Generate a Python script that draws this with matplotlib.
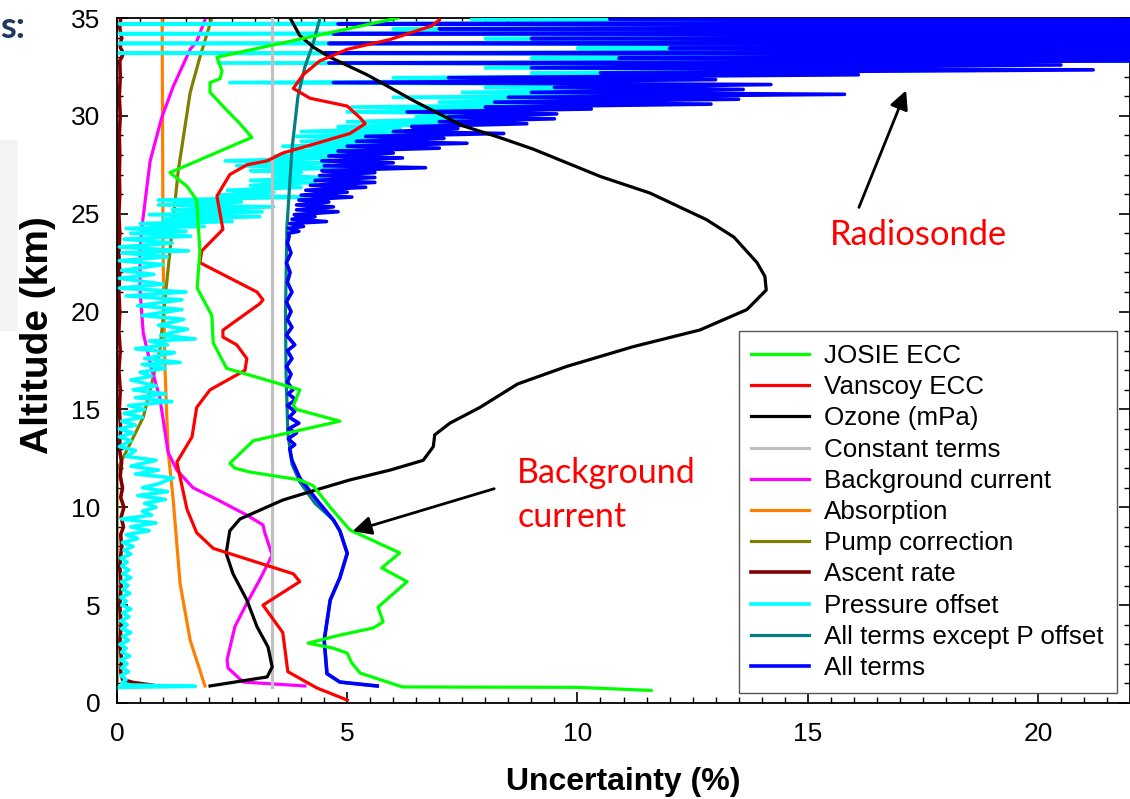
import matplotlib
matplotlib.use("Agg")
import matplotlib.pyplot as plt
from matplotlib.patches import Rectangle
from matplotlib.ticker import MultipleLocator

plt.rcParams['font.family'] = ['Liberation Sans', 'DejaVu Sans']

# ---- data: uncertainty (%) vs altitude (km) ----
josie_alt = [0.64, 0.80, 0.82, 1.53, 2.04, 2.55, 2.8, 3.06, 3.47, 3.83, 4.14, 4.9, 6.2, 6.9, 7.67,
             8.84, 10.0, 11.1, 11.4, 11.8, 12.0, 12.25, 13.4, 14.4, 15.0, 15.2, 16.0, 17.1, 18.4,
             19.8, 21.2, 23.1, 25.7, 26.4, 27.1, 28.9, 29.6, 30.3, 31.2, 31.7, 31.9, 32.3, 33.0, 35.0]
josie_val = [11.6, 10.0, 6.2, 5.28, 5.1, 5.0, 4.7, 4.15, 4.84, 5.56, 5.78, 5.67, 6.3, 5.75, 6.14,
             5.06, 4.63, 4.26, 3.97, 2.89, 2.56, 2.45, 2.96, 4.84, 3.9, 3.83, 3.97, 2.38, 2.09,
             2.06, 1.74, 1.8, 1.73, 1.52, 1.15, 2.93, 2.67, 2.38, 2.02, 2.02, 2.24, 2.28, 2.17, 6.1]

vanscoy_alt = [0.15, 0.77, 1.6, 3.6, 5.0, 6.2, 6.6, 7.9, 8.7, 9.9, 12.3, 13.6, 15.1, 16.0, 17.0,
               17.6, 18.3, 18.7, 19.05, 20.4, 20.6, 21.0, 22.5, 23.1, 24.2, 25.9, 27.0, 27.5, 27.7,
               28.1, 28.6, 29.1, 29.6, 29.9, 30.5, 30.9, 31.4, 32.1, 32.8, 33.4, 33.9, 34.6, 34.9]
vanscoy_val = [5.0, 4.34, 3.71, 3.6, 3.17, 3.97, 3.83, 2.09, 1.73, 1.52, 1.3, 1.63, 1.73, 2.02, 2.78,
               2.82, 2.6, 2.3, 2.3, 3.1, 3.17, 3.04, 1.8, 1.84, 2.3, 2.17, 2.45, 2.82, 3.26,
               3.6, 4.34, 5.06, 5.39, 5.28, 5.0, 4.19, 3.83, 4.04, 4.4, 5.0, 5.93, 6.84, 7.0]

ozone_alt = [0.87, 1.33, 1.84, 2.86, 3.9, 5.26, 6.6, 7.65, 8.8, 9.4, 9.85, 10.37, 10.9, 11.4, 11.9,
             12.4, 13.1, 13.7, 14.3, 15.1, 16.3, 17.2, 18.2, 19.06, 20.1, 21.1, 21.8, 22.5, 23.8,
             24.7, 26.06, 26.9, 28.3, 28.9, 29.5, 30.7, 32.1, 33.0, 33.5, 34.1, 35.0]
ozone_val = [2.02, 3.26, 3.37, 3.28, 3.04, 2.82, 2.52, 2.37, 2.45, 2.67, 3.1, 3.6, 4.34, 5.06, 5.93,
             6.65, 6.87, 6.9, 7.23, 7.88, 8.7, 9.77, 11.2, 12.66, 13.68, 14.1, 14.07, 13.9, 13.4,
             12.8, 11.57, 10.5, 9.04, 8.3, 7.5, 6.5, 5.43, 4.62, 4.27, 3.97, 3.76]

const_alt = [0.82, 35.0]
const_val = [3.37, 3.37]

bkg_alt = [0.87, 1.07, 1.79, 2.2, 3.9, 5.1, 6.3, 7.56, 8.7, 9.1, 9.6, 10.4, 11.0, 11.9, 12.8,
           15.6, 17.0, 18.9, 21.1, 23.1, 24.3, 27.7, 29.9, 31.5, 33.4, 33.8, 34.9]
bkg_val = [4.08, 2.74, 2.41, 2.39, 2.56, 2.82, 3.1, 3.37, 3.21, 3.17, 2.82, 2.17, 1.65, 1.3, 1.11,
           0.93, 0.76, 0.57, 0.5, 0.5, 0.54, 0.72, 0.97, 1.22, 1.59, 1.73, 1.91]

absorp_alt = [0.87, 3.2, 6.1, 10.4, 12.9, 17.2, 23.0, 35.0]
absorp_val = [1.91, 1.59, 1.37, 1.22, 1.11, 1.04, 1.0, 0.98]

pump_alt = [0.8, 11.9, 14.6, 18.0, 23.1, 27.2, 31.2, 33.0, 35.0]
pump_val = [0.0, 0.0, 0.57, 0.93, 1.15, 1.33, 1.59, 1.8, 2.06]

ascent_alt = [0.8, 0.9, 1.05, 1.2, 1.6, 2.2, 3.0, 4.0, 5.0, 6.0, 7.0, 8.0, 8.6, 9.0, 9.5, 10.0,
              10.5, 11.0, 11.6, 12.3, 13.0, 14.0, 15.0, 16.0, 17.0, 18.0, 19.0, 20.0, 21.0, 22.0,
              23.0, 24.0, 25.0, 26.0, 27.0, 28.0, 29.0, 30.0, 31.0, 32.0, 32.8, 33.2, 33.5, 34.0,
              34.5, 35.0]
ascent_val = [0.15, 0.8, 0.35, 0.12, 0.08, 0.1, 0.06, 0.09, 0.06, 0.09, 0.06, 0.1, 0.08, 0.14, 0.09,
              0.15, 0.08, 0.12, 0.07, 0.1, 0.05, 0.08, 0.05, 0.07, 0.04, 0.07, 0.04, 0.06, 0.04, 0.06,
              0.04, 0.06, 0.04, 0.06, 0.05, 0.06, 0.05, 0.07, 0.05, 0.07, 0.06, 0.14, 0.07, 0.1,
              0.06, 0.08]

# pressure offset, troposphere / lower stratosphere
poff_low_alt = [0.80, 0.85, 0.92, 1.0, 1.2, 1.4, 1.6, 1.8, 2.0, 2.2, 2.4, 2.6, 2.8, 3.0, 3.2, 3.4,
                3.6, 3.8, 4.0, 4.2, 4.4, 4.6, 4.8, 5.0, 5.2, 5.4, 5.6, 5.8, 6.0, 6.2, 6.4, 6.6,
                6.8, 7.0, 7.2, 7.4, 7.6, 7.8, 8.0, 8.2, 8.4, 8.6, 8.8, 9.0, 9.2, 9.4, 9.6, 9.8,
                10.0, 10.2, 10.4, 10.6, 10.8, 11.0, 11.2, 11.5, 11.7, 11.9, 12.1, 12.4, 12.6, 12.9,
                13.1, 13.4, 13.6, 13.8, 14.0, 14.2, 14.4, 14.6, 14.8, 15.0, 15.2, 15.4, 15.6, 15.8,
                16.0, 16.2, 16.5, 16.7, 16.9, 17.1, 17.3, 17.4, 17.6, 17.9, 18.1, 18.3, 18.5, 18.6,
                18.8, 19.1, 19.3, 19.6, 19.8, 20.1, 20.3, 20.6, 20.8, 21.0, 21.2, 21.4, 21.7, 21.9,
                22.1, 22.4, 22.6, 22.8, 23.0, 23.1, 23.3, 23.5, 23.7, 23.85]
poff_low_val = [0.05, 1.70, 0.30, 0.10, 0.20, 0.08, 0.25, 0.10, 0.22, 0.08, 0.28, 0.10, 0.20, 0.06,
                0.25, 0.12, 0.30, 0.10, 0.22, 0.08, 0.26, 0.12, 0.30, 0.10, 0.20, 0.08, 0.28, 0.12,
                0.24, 0.10, 0.30, 0.12, 0.26, 0.10, 0.22, 0.08, 0.30, 0.15, 0.35, 0.12, 0.45, 0.20,
                0.70, 0.30, 0.85, 0.10, 0.75, 0.55, 0.85, 0.60, 1.05, 0.45, 1.10, 0.55, 0.90, 1.22,
                0.40, 0.90, 0.30, 0.85, 0.20, 0.40, 0.05, 0.30, 0.05, 0.35, 0.05, 0.40, 0.10, 0.55,
                0.15, 0.60, 0.25, 1.19, 0.40, 1.05, 0.35, 0.85, 0.30, 0.75, 0.50, 1.05, 0.55, 1.37,
                0.60, 1.25, 0.40, 1.10, 0.70, 1.70, 0.95, 1.53, 0.90, 1.45, 0.55, 1.41, 0.45, 1.41,
                0.20, 1.50, 0.05, 1.00, 0.05, 0.80, 0.10, 1.00, 0.05, 1.09, 0.10, 1.55, 0.05, 1.20,
                0.15, 1.60]

# all terms, troposphere / lower stratosphere
all_low_alt = [0.87, 1.07, 1.5, 3.2, 5.26, 6.4, 7.65, 8.8, 9.35, 10.37, 11.5, 12.4, 13.0, 13.2,
               13.5, 13.8, 14.0, 14.3, 14.6, 14.9, 15.2, 15.5, 15.8, 16.0, 16.4, 16.8, 17.2, 17.6,
               18.0, 18.3, 18.8, 19.2, 19.6, 20.0, 20.5, 21.0, 21.5, 22.0, 22.5, 23.0, 23.5, 23.85]
all_low_val = [5.65, 4.84, 4.56, 4.5, 4.63, 4.84, 5.0, 4.84, 4.7, 4.34, 3.97, 3.8, 3.75, 3.86,
               3.72, 3.9, 3.72, 3.95, 3.74, 3.86, 3.7, 3.88, 3.72, 3.82, 3.7, 3.78, 3.68, 3.8,
               3.7, 3.86, 3.68, 3.8, 3.7, 3.78, 3.68, 3.8, 3.7, 3.76, 3.68, 3.78, 3.7, 3.74]

# upper stratosphere: pressure offset and all terms share the same sonde levels
upper_alt = [24.00, 24.10, 24.25, 24.35, 24.50, 24.60, 24.72, 24.85, 24.95, 25.10, 25.20, 25.35,
             25.45, 25.60, 25.70, 25.85, 25.95, 26.10, 26.20, 26.35, 26.45, 26.60, 26.70, 26.85,
             26.95, 27.10, 27.20, 27.35, 27.45, 27.60, 27.70, 27.85, 27.95, 28.10, 28.20, 28.35,
             28.45, 28.60, 28.70, 28.85, 28.95, 29.10, 29.20, 29.35, 29.45, 29.60, 29.70, 29.85,
             29.95, 30.10, 30.20, 30.35, 30.45, 30.60, 30.70, 30.85, 30.95, 31.10, 31.20, 31.35,
             31.45, 31.60, 31.70, 31.85, 31.95, 32.10, 32.20, 32.35, 32.45, 32.60, 32.70, 32.85,
             32.95, 33.10, 33.20, 33.35, 33.45, 33.60, 33.70, 33.85, 33.95, 34.10, 34.20, 34.35,
             34.45, 34.60, 34.70, 34.85, 34.95, 35.05]
poff_up_val = [0.30, 1.50, 0.20, 1.90, 0.50, 2.50, 1.00, 3.10, 0.70, 3.15, 1.20, 3.40,
               0.90, 2.70, 0.90, 4.10, 2.20, 3.40, 2.40, 4.00, 2.90, 4.30, 2.90, 4.50,
               3.40, 4.00, 2.90, 5.00, 2.60, 4.60, 2.35, 4.60, 3.40, 5.00, 3.80, 6.20,
               3.60, 6.00, 4.00, 6.00, 3.90, 7.00, 4.00, 6.15, 4.80, 8.00, 5.00, 7.50,
               6.50, 8.50, 5.00, 9.00, 5.10, 11.0, 7.00, 11.5, 6.00, 14.0, 7.50, 12.5,
               8.00, 12.0, 2.45, 12.5, 6.00, 15.0, 9.00, 20.0, 8.00, 19.0, 2.20, 30.0,
               9.00, 30.0, 0.05, 30.0, 10.0, 30.0, 0.05, 30.0, 8.00, 30.0, 0.05, 30.0,
               6.00, 30.0, 0.05, 30.0, 7.70, 30.0]
all_up_val = [3.72, 3.95, 3.72, 4.05, 3.75, 4.55, 3.80, 4.30, 3.85, 4.80, 3.90, 4.70,
              3.90, 4.60, 3.95, 5.10, 4.00, 5.00, 4.10, 5.40, 4.20, 5.60, 4.30, 5.60,
              4.40, 5.60, 4.45, 6.70, 4.50, 6.00, 4.45, 6.20, 4.60, 6.00, 4.80, 7.00,
              5.00, 7.60, 5.20, 7.10, 5.40, 8.40, 6.00, 7.40, 6.40, 8.90, 7.00, 9.50,
              7.20, 9.55, 6.30, 10.3, 8.00, 12.9, 8.20, 13.5, 8.50, 15.8, 9.00, 13.6,
              9.50, 14.2, 4.70, 13.0, 7.20, 16.1, 10.5, 21.2, 9.00, 20.5, 4.60, 30.0,
              10.9, 30.0, 4.50, 30.0, 12.0, 30.0, 4.60, 30.0, 9.00, 30.0, 4.70, 30.0,
              7.00, 30.0, 4.80, 30.0, 10.7, 30.0]

no_poff_alt = [0.87, 1.07, 1.5, 3.2, 5.26, 6.4, 7.65, 8.8, 9.35, 10.2, 11.3, 12.2, 13.8, 17.0,
               20.0, 24.3, 28.3, 31.0, 32.5, 33.7, 35.0]
no_poff_val = [5.65, 4.84, 4.56, 4.5, 4.63, 4.84, 5.0, 4.84, 4.7, 4.3, 3.97, 3.8, 3.71, 3.67,
               3.66, 3.69, 3.8, 3.93, 4.08, 4.26, 4.41]

labels = ['JOSIE ECC', 'Vanscoy ECC', 'Ozone (mPa)', 'Constant terms', 'Background current',
          'Absorption', 'Pump correction', 'Ascent rate', 'Pressure offset',
          'All terms except P offset', 'All terms']

# ---- figure ----
fig = plt.figure(figsize=(11.3, 7.99), dpi=100)
ax = fig.add_axes([117 / 1130, 1 - 703 / 799, 1013 / 1130, 685 / 799])

# faint remnant of the slide background at the left edge
fig.patches.append(Rectangle((0, 1 - 330 / 799), 16 / 1130, 190 / 799,
                             transform=fig.transFigure, color='#f3f3f3', zorder=0))
fig.text(0.0, 1 - 27 / 799, 's:', color='#1f3864', fontsize=26, fontweight='bold',
         ha='left', va='center', family=['Lato', 'DejaVu Sans'])

lw = 2.3
h = {}
h['Absorption'], = ax.plot(absorp_val, absorp_alt, color='#ff8000', lw=lw, zorder=2)
h['Pump correction'], = ax.plot(pump_val, pump_alt, color='#808000', lw=lw, zorder=2)
h['Background current'], = ax.plot(bkg_val, bkg_alt, color='#ff00ff', lw=lw, zorder=2)
h['Ascent rate'], = ax.plot(ascent_val, ascent_alt, color='#800000', lw=2.6, zorder=2)
h['Pressure offset'], = ax.plot(poff_low_val + poff_up_val, poff_low_alt + upper_alt,
                                color='#00ffff', lw=2.6, zorder=3)
h['All terms except P offset'], = ax.plot(no_poff_val, no_poff_alt, color='#008080', lw=lw, zorder=3.5)
h['All terms'], = ax.plot(all_low_val + all_up_val, all_low_alt + upper_alt,
                          color='#0000ff', lw=2.6, zorder=4)
h['Constant terms'], = ax.plot(const_val, const_alt, color='#c0c0c0', lw=lw, zorder=5)
h['Ozone (mPa)'], = ax.plot(ozone_val, ozone_alt, color='black', lw=lw, zorder=6)
h['Vanscoy ECC'], = ax.plot(vanscoy_val, vanscoy_alt, color='#ff0000', lw=lw, zorder=7)
h['JOSIE ECC'], = ax.plot(josie_val, josie_alt, color='#00ff00', lw=lw, zorder=8)

ax.set_xlim(0, 22)
ax.set_ylim(0, 35)
ax.xaxis.set_major_locator(MultipleLocator(5))
ax.xaxis.set_minor_locator(MultipleLocator(0.5))
ax.yaxis.set_major_locator(MultipleLocator(5))
ax.yaxis.set_minor_locator(MultipleLocator(1))
ax.tick_params(which='both', direction='in', top=True, right=True)
ax.tick_params(which='major', length=8, width=1.2, labelsize=19)
ax.tick_params(which='minor', length=4.5, width=1.0)
ax.tick_params(axis='y', pad=12)
ax.tick_params(axis='x', pad=14)
for s in ax.spines.values():
    s.set_linewidth(1.3)

ax.set_xlabel('Uncertainty (%)', fontsize=23, fontweight='bold')
ax.set_ylabel('Altitude (km)', fontsize=28, fontweight='bold')
ax.xaxis.set_label_coords(0.5, -0.093)
ax.yaxis.set_label_coords(-0.06, 0.537)

# annotations
ax.annotate('', xy=(17.16, 31.43), xytext=(16.09, 25.19),
            arrowprops=dict(arrowstyle='-|>', color='black', lw=2, mutation_scale=28), zorder=9)
ax.annotate('', xy=(5.06, 8.74), xytext=(8.25, 10.99),
            arrowprops=dict(arrowstyle='-|>', color='black', lw=2, mutation_scale=28), zorder=9)
ax.text(15.48, 23.9, 'Radiosonde', color='red', fontsize=24.8, ha='left', va='center',
        family=['Lato', 'DejaVu Sans'])
ax.text(8.69, 10.63, 'Background\ncurrent', color='red', fontsize=24.5, ha='left', va='center',
        linespacing=1.48, family=['Lato', 'DejaVu Sans'])

leg = ax.legend([h[k] for k in labels], labels, loc='lower right',
                bbox_to_anchor=(0.987, 0.0146), borderaxespad=0, fontsize=18.7,
                handlelength=2.2, handletextpad=0.6, labelspacing=0.277, borderpad=0.5,
                fancybox=False, framealpha=1, edgecolor='#555555')
leg.get_frame().set_linewidth(1.0)
leg.set_zorder(10)

fig.savefig('out.png', dpi=100)
